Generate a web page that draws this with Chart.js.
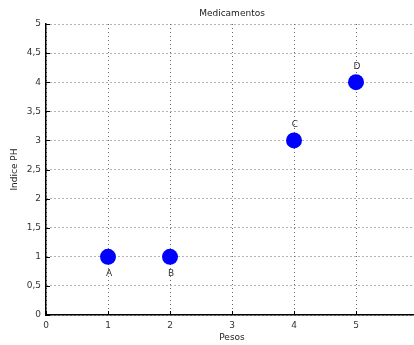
<!DOCTYPE html>
<html>
<head>
<meta charset="utf-8">
<script src="https://cdn.jsdelivr.net/npm/chart.js@4/dist/chart.umd.min.js"></script>
<style>
html,body{margin:0;padding:0;background:#fff;overflow:hidden;width:414px;height:345px;}
canvas{display:block;}
</style>
</head>
<body>
<canvas id="c" width="426" height="345"></canvas>
<script>
const pointNames = ['A', 'B', 'C', 'D'];
const pesos = [1, 2, 4, 5];
const indicePH = [1, 1, 3, 4];
const labelAbove = [false, false, true, true];
const xTicks = [0, 1, 2, 3, 4, 5, 6];
const yTicks = [0, 0.5, 1, 1.5, 2, 2.5, 3, 3.5, 4, 4.5, 5];

const FONT = 'DejaVu Sans';
const fmt = v => String(v).replace('.', ',');

const extras = {
  id: 'extras',
  afterDatasetsDraw(chart) {
    const ctx = chart.ctx;
    const xs = chart.scales.x, ys = chart.scales.y;
    const a = chart.chartArea;
    ctx.save();
    ctx.strokeStyle = '#000';
    ctx.lineWidth = 1;
    ctx.beginPath();
    xTicks.forEach(v => {
      const px = Math.round(xs.getPixelForValue(v)) + 0.5;
      ctx.moveTo(px, a.bottom);
      ctx.lineTo(px, a.bottom - 4);
    });
    yTicks.forEach(v => {
      const py = Math.round(ys.getPixelForValue(v)) + 0.5;
      ctx.moveTo(a.left, py);
      ctx.lineTo(a.left + 4, py);
    });
    ctx.stroke();
    ctx.fillStyle = '#333';
    ctx.font = '9px "' + FONT + '"';
    ctx.textAlign = 'center';
    ctx.textBaseline = 'middle';
    pointNames.forEach((n, i) => {
      const px = xs.getPixelForValue(pesos[i]);
      const py = ys.getPixelForValue(indicePH[i]);
      ctx.fillText(n, px + 1, py + (labelAbove[i] ? -16 : 17));
    });
    ctx.restore();
  }
};

new Chart(document.getElementById('c'), {
  type: 'scatter',
  data: {
    datasets: [{
      data: pesos.map((x, i) => ({x: x, y: indicePH[i]})),
      backgroundColor: '#0000ff',
      borderColor: '#0000ff',
      pointRadius: 8,
      pointHoverRadius: 8,
      borderWidth: 0
    }]
  },
  options: {
    responsive: false,
    devicePixelRatio: 1,
    animation: false,
    events: [],
    layout: { padding: { left: 0, right: 2, top: 0, bottom: 0 } },
    plugins: {
      legend: { display: false },
      tooltip: { enabled: false },
      title: {
        display: true,
        fullSize: false,
        text: 'Medicamentos',
        color: '#222',
        font: { family: FONT, size: 9, weight: 'normal', lineHeight: 1.2 },
        padding: { top: 8, bottom: 5.2 }
      }
    },
    scales: {
      x: {
        type: 'linear',
        min: 0, max: 6,
        afterBuildTicks: s => { s.ticks = xTicks.map(v => ({value: v})); },
        afterFit: s => { s.height = 30; },
        ticks: {
          color: '#333',
          font: { family: FONT, size: 9 },
          padding: 5,
          maxRotation: 0,
          callback: v => (v === 6 ? '' : fmt(v))
        },
        grid: { color: '#666', lineWidth: 1, drawTicks: false },
        border: { display: true, color: '#000', width: 1.5, dash: [1, 3] },
        title: {
          display: true, text: 'Pesos', color: '#222',
          font: { family: FONT, size: 9 },
          padding: { top: 0, bottom: 2 }
        }
      },
      y: {
        type: 'linear',
        min: 0, max: 5,
        afterBuildTicks: s => { s.ticks = yTicks.map(v => ({value: v})); },
        afterFit: s => { s.width = 46; },
        ticks: {
          color: '#333',
          font: { family: FONT, size: 9 },
          padding: 5,
          callback: v => fmt(v)
        },
        grid: { color: '#666', lineWidth: 1, drawTicks: false },
        border: { display: true, color: '#000', width: 1.5, dash: [1, 3] },
        title: {
          display: true, text: 'Indice PH', color: '#222',
          font: { family: FONT, size: 9 },
          padding: { top: 9, bottom: 0 }
        }
      }
    }
  },
  plugins: [extras]
});
</script>
</body>
</html>
